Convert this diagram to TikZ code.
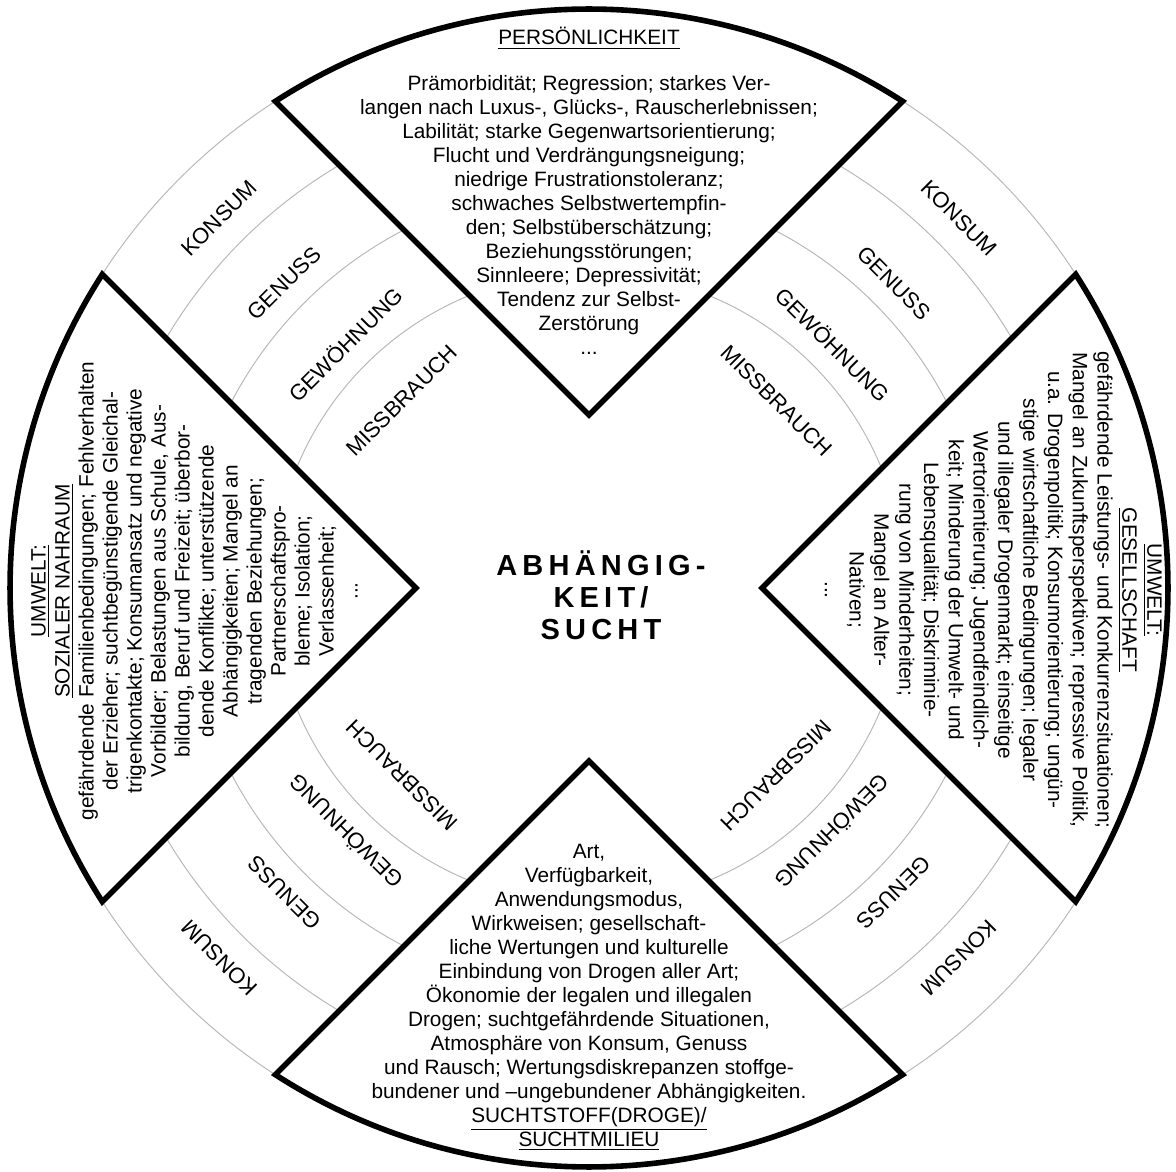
\documentclass[tikz,border=0pt]{standalone}
\usepackage{fontspec}
\setmainfont{Liberation Sans}
\usetikzlibrary{positioning}
\tikzstyle{ring} = [draw=gray!55, line width=0.5pt]
\tikzstyle{wedge} = [draw, fill=white, line width=2.8pt, line join=miter]
\tikzstyle{stage} = [inner sep=0, font=\fontsize{11}{13}\selectfont]
\tikzstyle{factor} = [inner sep=0, align=center, font=\fontsize{10.4}{12}\selectfont]
\tikzstyle{core} = [inner sep=0, align=center, font=\fontsize{14.5}{16}\selectfont\bfseries\addfontfeature{LetterSpace=18}]

\begin{document}
\begin{tikzpicture}[x=0.5pt, y=0.5pt]
  \useasboundingbox (-589,-583) rectangle (587,588);
  \def\R{579}
  \def\apex{173}
  \pgfmathsetmacro\half{45-asin(\apex*sin(45)/\R)}

  % rings
  \foreach \r in {316,403,491,579}
    \draw [ring] (0,0) circle (\r);

  % wedges
  \foreach \a in {90,180,270,0}
    \draw [wedge] (\a:\apex) -- (\a+\half:\R)
      arc [start angle=\a+\half, end angle=\a-\half, radius=\R] -- cycle;

  % stages
  \foreach \a in {45,135,225,315} {
    \node [stage, rotate=\a-90] (konsum-\a) at (\a:523) {KONSUM};
    \node [stage, rotate=\a-90] (genuss-\a) at (\a:431) {GENUSS};
    \node [stage, rotate=\a-90] (gewoehnung-\a) at (\a:345) {GEWÖHNUNG};
    \node [stage, rotate=\a-90] (missbrauch-\a) at (\a:265) {MISSBRAUCH};
  }

  \node [core] (sucht) at (12,-7) {ABHÄNGIG-\\KEIT/\\SUCHT};

  % factors
  \node [factor, anchor=base] (person-title) at (0,543) {\underline{PERSÖNLICHKEIT}};
  \node [factor, anchor=north] (person) at (0,513) {Prämorbidität; Regression; starkes Ver-\\
    langen nach Luxus-, Glücks-, Rauscherlebnissen;\\
    Labilität; starke Gegenwartsorientierung;\\
    Flucht und Verdrängungsneigung;\\
    niedrige Frustrationstoleranz;\\
    schwaches Selbstwertempfin-\\
    den; Selbstüberschätzung;\\
    Beziehungsstörungen;\\
    Sinnleere; Depressivität;\\
    Tendenz zur Selbst-\\
    Zerstörung\\
    ...};

  \node [factor, anchor=north, rotate=90] (nahraum) at (-558,-3) {\underline{UMWELT:}\\
    \underline{SOZIALER NAHRAUM}\\
    gefährdende Familienbedingungen; Fehlverhalten\\
    der Erzieher; suchtbegünstigende Gleichal-\\
    trigenkontakte; Konsumansatz und negative\\
    Vorbilder; Belastungen aus Schule, Aus-\\
    bildung, Beruf und Freizeit; überbor-\\
    dende Konflikte; unterstützende\\
    Abhängigkeiten; Mangel an\\
    tragenden Beziehungen;\\
    Partnerschaftspro-\\
    bleme; Isolation;\\
    Verlassenheit;\\
    ...};

  \node [factor, anchor=north, rotate=-90,
    font=\fontsize{10.4}{12.4}\selectfont] (gesellschaft) at (573,-2) {\underline{UMWELT:}\\
    \underline{GESELLSCHAFT}\\
    gefährdende Leistungs- und Konkurrenzsituationen;\\
    Mangel an Zukunftsperspektiven; repressive Politik,\\
    u.a. Drogenpolitik; Konsumorientierung; ungün-\\
    stige wirtschaftliche Bedingungen; legaler\\
    und illegaler Drogenmarkt; einseitige\\
    Wertorientierung; Jugendfeindlich-\\
    keit; Minderung der Umwelt- und\\
    Lebensqualität; Diskriminie-\\
    rung von Minderheiten;\\
    Mangel an Alter-\\
    Nativen;\\
    ...};

  \node [factor, anchor=north] (droge) at (0,-256) {Art,\\
    Verfügbarkeit,\\
    Anwendungsmodus,\\
    Wirkweisen; gesellschaft-\\
    liche Wertungen und kulturelle\\
    Einbindung von Drogen aller Art;\\
    Ökonomie der legalen und illegalen\\
    Drogen; suchtgefährdende Situationen,\\
    Atmosphäre von Konsum, Genuss\\
    und Rausch; Wertungsdiskrepanzen stoffge-\\
    bundener und –ungebundener Abhängigkeiten.\\
    \underline{SUCHTSTOFF(DROGE)/}\\
    \underline{SUCHTMILIEU}};
\end{tikzpicture}
\end{document}
